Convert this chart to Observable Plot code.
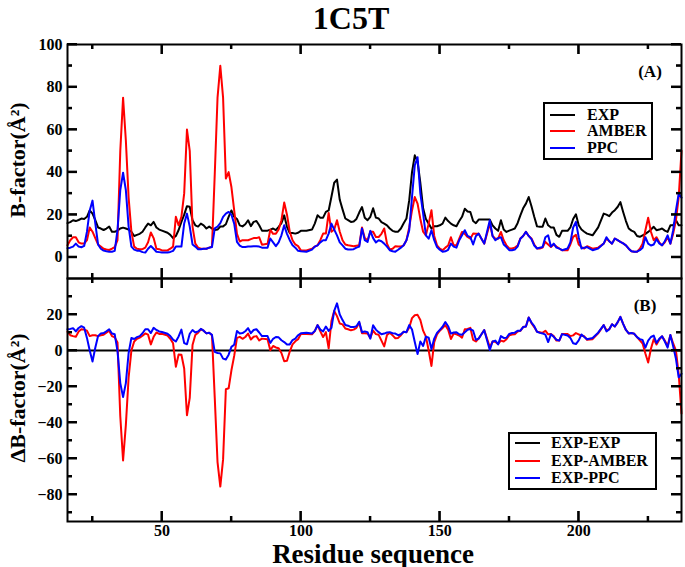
<!DOCTYPE html>
<html><head><meta charset="utf-8">
<script src="https://cdn.jsdelivr.net/npm/d3@7"></script>
<script src="https://cdn.jsdelivr.net/npm/@observablehq/plot@0.6"></script>
<style>
body{margin:0;background:#fff;}
#wrap{position:relative;width:685px;height:567px;overflow:hidden;font-family:"Liberation Serif","Times New Roman",serif;font-weight:bold;color:#000;}
.abs{position:absolute;white-space:nowrap;}
#wrap svg{position:absolute;left:0;}
.legend{position:absolute;border:2px solid #000;background:#fff;box-sizing:border-box;z-index:3;}
.legend .ln{position:absolute;height:2px;width:25px;left:5px;}
.legend .tx{position:absolute;font-size:16px;line-height:16px;}
.lab{z-index:4;}
</style></head>
<body><div id="wrap"></div>
<script>
const residue = [16,17,18,19,20,21,22,23,24,25,
26,27,28,29,30,31,32,33,34,35,
36,37,38,39,40,41,42,43,44,45,
46,47,48,49,50,52,53,54,55,56,
57,58,59,60,61,62,63,64,65,66,
67,68,69,70,71,72,73,74,75,76,
77,78,79,80,81,82,83,84,85,86,
88,89,90,91,92,93,94,95,96,97,
98,99,100,102,104,105,106,107,108,109,
110,111,112,113,114,115,116,117,118,119,
120,121,122,123,124,125,126,127,128,129,
130,131,132,133,134,135,136,137,138,139,
140,141,142,143,144,145,146,147,148,149,
150,151,152,153,154,155,156,157,158,159,
160,161,162,163,164,165,166,168,169,170,
171,172,173,174,175,176,177,178,179,180,
181,182,183,184,185,186,187,188,189,190,
191,192,193,194,196,197,198,199,200,201,
202,203,205,207,209,210,211,212,213,214,
215,216,217,218,219,220,221,222,223,224,
225,226,227,228,229,230,231,232,233,234,
235,236,237];
const expB = [16,16.5,17.4,17,17.5,18.2,18,19,22,20.5,
17.5,14,13.5,12.8,13.5,14.4,12,12,12.5,13.5,
13.9,13.5,13,12,10,10.5,11,12,14,15.8,
15,16.6,14,13,12.5,11.5,10.5,9,10,12.8,
16.6,20,24,23.7,17.4,15,14.4,15.8,15,13.5,
14.4,13.5,12.8,13,14.4,14.5,15.5,19,22,19,
18,15,14.5,15.5,17.4,14.6,16.6,17,15,12.5,
12.5,13,13.5,12.7,14.3,16,19.7,14.3,11.4,11.4,
11.1,11.5,12.4,12.4,13,15.8,19.7,18.6,18.6,21.3,
22,28.4,35,36.5,27,22.5,18.2,17.4,16.6,16.8,
18,21,23.6,18.6,17.4,19,23,18.6,18.2,16.5,
15.8,15,13.5,12.4,12,12,13.5,16,18.2,26.8,
40,47.9,45,35,23,18,15.8,13.5,14.6,14.6,
15,15.8,18.6,17,15.8,15,14.6,17,19,22.8,
21.5,21.3,17,16,17.7,17.7,17.7,17.7,15,13.5,
12.4,17.4,13,11.9,12.5,13,13.5,16,19.7,23,
25.2,28.3,24,19,14.5,14.3,14.3,18.2,15,14,
14,10.5,9.6,12.4,12.4,14,18,20.2,15,13,
12,11.1,10.3,14,20.5,20,19.3,21,22.1,23.6,
25.9,21.3,17,13.5,12.5,11.9,10,9.6,10.3,11,
11.9,13,14.3,12.7,13,13.5,12.5,11.9,15,15,
17.4,15,15];
const amberB = [5.6,8,9.4,9.4,7,6.4,6.4,8,14,12,
9,6,5,4,3.6,3.4,4,4.7,8,50,
75,55,28,12,5,4,3.8,3.8,4.5,7,
11.6,9,4,3.8,3.2,3.2,4,5,19,15,
19,30,60,50,14.4,6.4,4.5,4,4,4,
4.5,5,39,75,90,75,37,40,33,22,
11,7.4,8,8,8,8.5,9,9,9.4,5.9,
6.3,12.9,11,11,13,17.4,25.7,20,12,8,
6,5.2,3.2,3.2,4,5,5.6,8,11.1,11.1,
20.8,12,13,17.4,12,8,6,5.6,5.4,5.2,
5.4,5.6,14,9,8,12,12,9.5,9.5,11,
13.5,6.4,3.6,4,5.2,5,5,5.6,8,14,
22,28.3,25.2,18,12,10.3,15.8,22.1,10,5.6,
4,3.3,4.5,5.5,9.4,5.6,5.6,8.7,11.9,11,
9.5,8.7,11.1,11,11,8.7,6.4,15.8,10,8.7,
8.7,11.9,8,5.6,4.1,4.1,4.5,5.5,8.8,10,
11.9,10,8.8,6,4.1,4.1,4.5,7.2,6,4.8,
6,5,4.1,3.3,3.3,6,9.6,10.5,6,4.8,
4.1,5.2,4,4.5,6.4,8.8,7.5,6.4,8.8,8,
7.2,6.5,5.6,4,2.8,2.6,2.6,4,6.4,12.7,
18.6,12,8,9.4,7,5.6,7,9.4,6.4,11.1,
17.4,28.3,50];
const ppcB = [4.2,4.5,5,6.4,5,4.7,5.3,12,22,26.6,
16,6,4,3.1,2.8,2.6,2.6,3,12.8,31.6,
39.7,31.6,14.4,5,3.6,3.1,3,2.4,2.2,4,
5.3,4,2.6,2.4,2.2,2.2,2.5,3,5,5,
5,15.9,20.5,14.4,6,5,3.8,3.8,4,4,
4.5,4.8,13.6,14.4,16,19,20.5,21.3,20,15.8,
7.2,5.5,4.8,4.8,5,5,5.2,5.2,5,4.5,
4.5,8.8,7,5.2,7,10.3,15,11,8,5.6,
4.5,3,2.8,2.6,3.6,5,5.6,7,8,8,
11.1,15.8,13,10.3,7,5.6,4,3.6,3.6,3.8,
4.5,5,13.5,8,7.2,12.4,9,7,8,7.5,
6.4,5,3.3,2.8,2.6,3.5,4.5,5.6,8,12.7,
28.3,43.2,47,30,20.5,10.3,8.7,12.7,8,4.8,
3.5,2.6,2.8,3.5,6.4,5,4.5,8,10.3,12.7,
10,9.4,6,10,11.1,8.7,6.4,17.4,10,8,
9,9.4,6,4.8,3.3,3.3,3.6,5,8.7,10,
11.9,10,8.5,5.5,4.1,4.5,4.8,9.4,10.3,5,
6.4,4.5,4.1,3.3,4.1,7,14,16.6,9.4,4.1,
4.5,4.8,3.3,4.1,6.4,9.4,7.5,6.4,8.8,8,
7.2,6.5,5.6,4,2.8,2.6,2.6,3.3,4.5,9.4,
6.4,5.5,6,8.5,6.5,5.6,7.5,10.3,6.4,12.7,
22,29.9,28];

const xMajor = [50,100,150,200], xMinor = [25,75,125,175,225];
const yMajorA = [0,20,40,60,80,100], yMinorA = [10,30,50,70,90];
const yMajorB = [-80,-60,-40,-20,0,20], yMinorB = [-90,-70,-50,-30,-10,10,30];

const rows = residue.map((r,i)=>({r, exp:expB[i], amber:amberB[i], ppc:ppcB[i],
  dA: expB[i]-amberB[i], dP: expB[i]-ppcB[i]}));

const FW = 614; // frame width in px
// inward ticks on all four sides
function frameTicks(yMajor, yMinor, FH, xLabels, useRects) {
  const st = {stroke:"#000", strokeWidth:2};
  const m = [];
  for (const [vals, len] of [[xMajor,10],[xMinor,5]]) {
    m.push(Plot.ruleX(vals, {x:d=>d, insetTop: FH-len, ...st}));
    m.push(Plot.ruleX(vals, {x:d=>d, insetBottom: FH-len, ...st}));
    if (useRects) {
      m.push(Plot.rect(vals, {x1:d=>d, x2:d=>d, insetLeft:-1, insetRight:-1, insetTop: FH-len, fill:"#000"}));
      m.push(Plot.rect(vals, {x1:d=>d, x2:d=>d, insetLeft:-1, insetRight:-1, insetBottom: FH-len, fill:"#000"}));
    }
  }
  for (const [vals, len] of [[yMajor,10],[yMinor,5]]) {
    m.push(Plot.ruleY(vals, {y:d=>d, insetRight: FW-len, ...st}));
    m.push(Plot.ruleY(vals, {y:d=>d, insetLeft: FW-len, ...st}));
    if (useRects) {
      m.push(Plot.rect(vals, {y1:d=>d, y2:d=>d, insetTop:-1, insetBottom:-1, insetRight: FW-len, fill:"#000"}));
      m.push(Plot.rect(vals, {y1:d=>d, y2:d=>d, insetTop:-1, insetBottom:-1, insetLeft: FW-len, fill:"#000"}));
    }
  }
  if (xLabels) m.push(Plot.axisX(xMajor,{anchor:"bottom", tickSize:0, tickPadding:3, fontSize:16, fontWeight:"bold", label:null}));
  m.push(Plot.axisY(yMajor,{anchor:"left", tickSize:0, tickPadding:5, fontSize:16, fontWeight:"bold", label:null}));
  return m;
}

function build(useRects) {
  const topPlot = Plot.plot({
    width:685, height:280, marginLeft:67, marginRight:4, marginTop:44, marginBottom:2,
    x:{domain:[16,237], axis:null}, y:{domain:[-10,100]},
    style:{background:"transparent", fontFamily:"Liberation Serif", fontWeight:"bold"},
    marks:[
      Plot.line(rows,{x:"r", y:"exp", stroke:"#000", strokeWidth:2}),
      Plot.line(rows,{x:"r", y:"amber", stroke:"#ff0000", strokeWidth:2}),
      Plot.line(rows,{x:"r", y:"ppc", stroke:"#0000ff", strokeWidth:2}),
      ...frameTicks(yMajorA, yMinorA, 234, false, useRects),
      Plot.frame({strokeWidth:2})
    ]
  });
  const botPlot = Plot.plot({
    width:685, height:299, marginLeft:67, marginRight:4, marginTop:10, marginBottom:46,
    x:{domain:[16,237]}, y:{domain:[-95,40]},
    style:{background:"transparent", fontFamily:"Liberation Serif", fontWeight:"bold"},
    marks:[
      Plot.ruleY([0],{stroke:"#000", strokeWidth:2}),
      Plot.line(rows,{x:"r", y:"dA", stroke:"#ff0000", strokeWidth:2}),
      Plot.line(rows,{x:"r", y:"dP", stroke:"#0000ff", strokeWidth:2}),
      ...frameTicks(yMajorB, yMinorB, 243, true, useRects),
      Plot.frame({strokeWidth:2})
    ]
  });
  return [topPlot, botPlot];
}
let plots;
try { plots = build(true); } catch (e) { plots = build(false); }
const [topPlot, botPlot] = plots;
topPlot.style.top = "0px";
botPlot.style.top = "268px";

const wrap = document.getElementById("wrap");
wrap.appendChild(botPlot);
wrap.appendChild(topPlot);

function addText(html, cx, cy, size, rot) {
  const d = document.createElement("div");
  d.className = "abs lab";
  d.innerHTML = html;
  d.style.fontSize = size + "px";
  d.style.lineHeight = size + "px";
  d.style.left = cx + "px";
  d.style.top = cy + "px";
  d.style.transform = "translate(-50%,-50%)" + (rot ? " rotate(-90deg)" : "");
  wrap.appendChild(d);
}
addText("1C5T", 351, 18, 32, false);
addText("B-factor(Å²)", 18, 160, 22, true);
addText("ΔB-factor(Å²)", 18, 398, 22, true);
addText("Residue sequence", 373, 554, 27, false);
addText("(A)", 650, 71, 17, false);
addText("(B)", 645, 305, 17, false);

function legend(items, left, top, w, h, ys, textLeft) {
  const b = document.createElement("div");
  b.className = "legend";
  Object.assign(b.style,{left:left+"px", top:top+"px", width:w+"px", height:h+"px"});
  items.forEach(([name,color],i)=>{
    const l = document.createElement("div"); l.className="ln";
    l.style.background = color; l.style.top = (ys[i]-1)+"px";
    b.appendChild(l);
    const t = document.createElement("div"); t.className="tx";
    t.textContent = name; t.style.left = textLeft+"px"; t.style.top = (ys[i]-8)+"px";
    b.appendChild(t);
  });
  wrap.appendChild(b);
}
legend([["EXP","#000"],["AMBER","#ff0000"],["PPC","#0000ff"]], 543, 102, 110, 58, [11,27,44], 42);
legend([["EXP-EXP","#000"],["EXP-AMBER","#ff0000"],["EXP-PPC","#0000ff"]], 508, 432, 149, 58, [9,27,44], 41);
</script>
</body></html>
